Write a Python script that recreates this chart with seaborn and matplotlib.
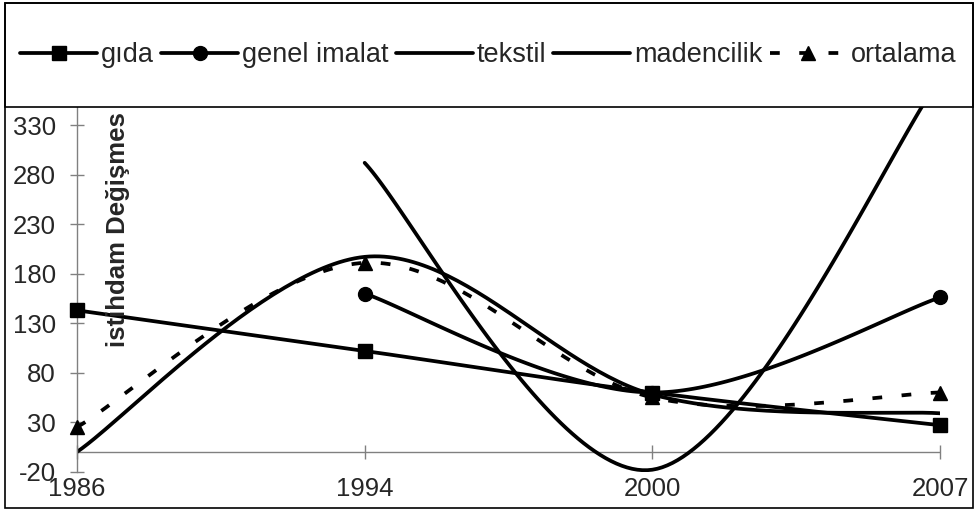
import numpy as np
import pandas as pd
import matplotlib
matplotlib.use("Agg")
import matplotlib.pyplot as plt
from matplotlib.lines import Line2D
from matplotlib.patches import Rectangle
import seaborn as sns

# ---------------- data ----------------
years = ["1986", "1994", "2000", "2007"]
gida = [143, 102, 60, 27]
genel_imalat = [np.nan, 160, 60, 156]
tekstil = [0, 197, 58, 39]
madencilik = [np.nan, 292, -18, 377]
ortalama = [25, 191, 55, 60]
series_names = ["gıda", "genel imalat", "tekstil", "madencilik", "ortalama"]
y_ticks = list(range(-20, 381, 50))
y_label = "istihdam Değişmes"

# ---------------- style ----------------
sns.set_style("white")
plt.rcParams["font.family"] = ["Liberation Sans", "DejaVu Sans"]

W, H = 977, 512
fig = plt.figure(figsize=(W / 100, H / 100), dpi=100)


def fx(px):
    return px / W


def fy(py):
    return 1 - py / H


YMIN, YMAX = -20, 380
ax_left, ax_right = 77, 940
ax_bottom = 471.7
ax_top = ax_bottom - (YMAX - YMIN) * 0.99
ax = fig.add_axes([fx(ax_left), fy(ax_bottom), fx(ax_right) - fx(ax_left),
                   fy(ax_top) - fy(ax_bottom)])
ax.set_facecolor("none")


def smooth(xs, ys, n=60):
    """Excel-like Bezier smoothing through the given points."""
    pts = [(x, y) for x, y in zip(xs, ys) if not np.isnan(y)]
    P = np.array(pts, dtype=float)
    out = []
    for i in range(len(P) - 1):
        p0 = P[i - 1] if i > 0 else P[i]
        p1 = P[i]
        p2 = P[i + 1]
        p3 = P[i + 2] if i + 2 < len(P) else P[i + 1]
        c1 = p1 + (p2 - p0) / 6.0
        c2 = p2 - (p3 - p1) / 6.0
        t = np.linspace(0, 1, n)[:, None]
        seg = ((1 - t) ** 3) * p1 + 3 * ((1 - t) ** 2) * t * c1 + \
              3 * (1 - t) * t ** 2 * c2 + t ** 3 * p2
        out.append(seg if i == 0 else seg[1:])
    S = np.vstack(out)
    return S[:, 0], S[:, 1]


xpos = np.arange(len(years))
LW = 2.7
dash = (0, (2.6, 5.2))
MS = 10
specs = [
    (gida, "s", "-"),
    (genel_imalat, "o", "-"),
    (tekstil, None, "-"),
    (madencilik, None, "-"),
    (ortalama, "^", dash),
]
for vals, mk, ls in specs:
    vals = np.array(vals, dtype=float)
    sx, sy = smooth(xpos, vals)
    df = pd.DataFrame({"x": sx, "y": sy})
    sns.lineplot(data=df, x="x", y="y", sort=False, estimator=None, ax=ax,
                 color="black", lw=LW, linestyle=ls, clip_on=True)
    if mk is not None:
        m = ~np.isnan(vals)
        ax.plot(xpos[m], vals[m], linestyle="none", marker=mk, color="black",
                markersize=MS, clip_on=False, zorder=5)

ax.set_xlim(0, len(years) - 1)
ax.set_ylim(YMIN, YMAX)
ax.set_xlabel("")
ax.set_ylabel("")

# y axis
ax.set_yticks(y_ticks)
ax.set_yticklabels([str(t) for t in y_ticks])
for s in ["top", "right", "bottom"]:
    ax.spines[s].set_visible(False)
ax.spines["left"].set_color("#808080")
ax.spines["left"].set_linewidth(1.0)
ax.tick_params(axis="y", direction="inout", length=10.5, width=1.0,
               color="#808080", labelsize=18.5, pad=10, left=True)

# x labels at the bottom (low position), tick marks on the zero line
ax.set_xticks(xpos)
ax.set_xticklabels(years)
ax.tick_params(axis="x", length=0, labelsize=18.5, pad=4, bottom=True)
ax.axhline(0, color="#808080", lw=1.0, zorder=1)
zero_frac = (0 - YMIN) / (YMAX - YMIN)
sec = ax.secondary_xaxis(zero_frac)
sec.set_xticks(xpos)
sec.set_xticklabels([])
sec.spines["bottom"].set_visible(False)
sec.tick_params(axis="x", direction="inout", length=10.5, width=1.0,
                color="#808080")

ax.text((118 - ax_left) / (ax_right - ax_left),
        (ax_bottom - 230) / (ax_bottom - ax_top), y_label,
        transform=ax.transAxes, rotation=90, ha="center", va="center",
        fontsize=18.5, fontweight="bold")

# frames: chart border, legend box
fig.patches.append(Rectangle((fx(5), fy(508)), fx(973) - fx(5), fy(3) - fy(508),
                             transform=fig.transFigure, fill=False,
                             edgecolor="black", lw=1.2, zorder=10))
fig.patches.append(Rectangle((fx(5), fy(107)), fx(973) - fx(5), fy(3) - fy(107),
                             transform=fig.transFigure, facecolor="white",
                             edgecolor="black", lw=1.2, zorder=9))

handles = [
    Line2D([], [], color="black", lw=LW, marker="s", markersize=MS),
    Line2D([], [], color="black", lw=LW, marker="o", markersize=MS),
    Line2D([], [], color="black", lw=LW),
    Line2D([], [], color="black", lw=LW),
    Line2D([], [], color="black", lw=LW, linestyle=dash, marker="^", markersize=MS),
]
leg = fig.legend(handles, series_names, loc="center left",
                 bbox_to_anchor=(fx(1), fy(55)), ncol=5, frameon=False,
                 fontsize=19.5, handlelength=2.85, handletextpad=0.15,
                 columnspacing=0.25, borderpad=0.2)
leg.set_zorder(11)

fig.savefig("out.png", dpi=100)
